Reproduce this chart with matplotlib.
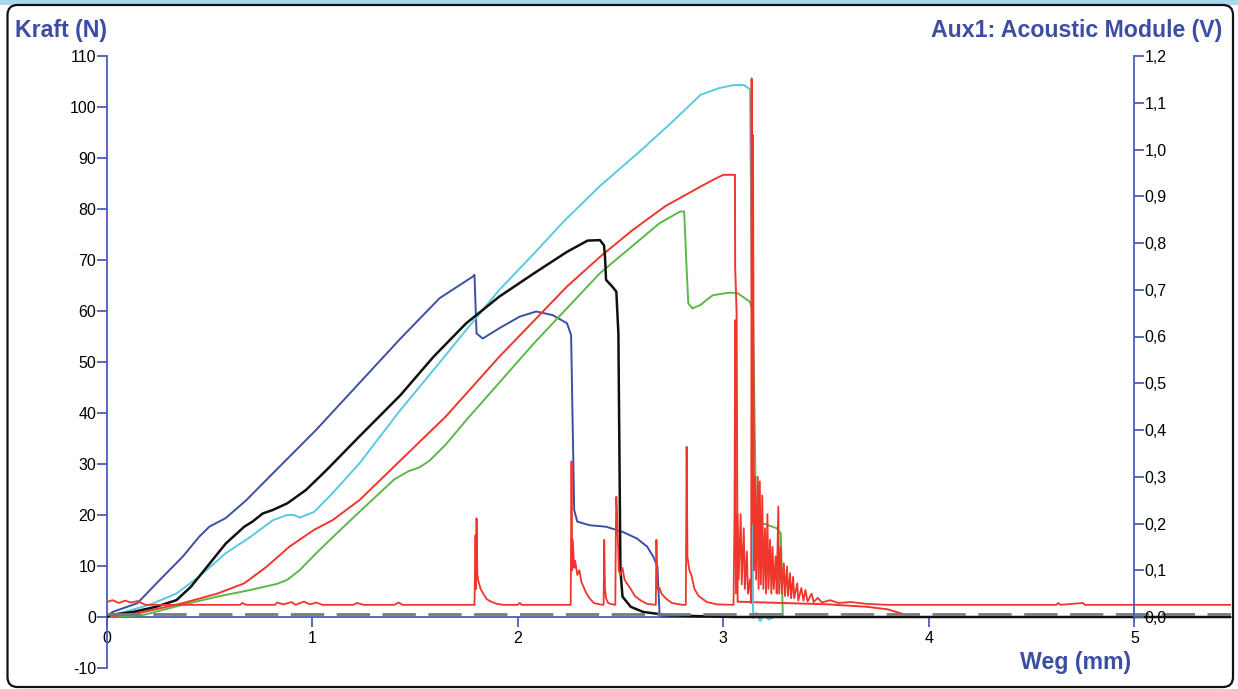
import matplotlib
matplotlib.use('Agg')
import matplotlib.pyplot as plt
from matplotlib.patches import FancyBboxPatch, Rectangle
from matplotlib.transforms import IdentityTransform
from matplotlib.ticker import FuncFormatter

# force curves, Weg (mm) -> Kraft (N)
blue_x = [0.0, 0.03, 0.15, 0.26, 0.37, 0.45, 0.50, 0.58, 0.68, 0.81, 1.02, 1.43, 1.62, 1.78, 1.79,
          1.80, 1.83, 1.91, 2.01, 2.09, 2.17, 2.24, 2.26, 2.27, 2.275, 2.29, 2.35, 2.43, 2.51, 2.58,
          2.63, 2.66, 2.68, 2.69, 2.70, 5.47]
blue_y = [0.0, 1.0, 2.7, 7.3, 11.8, 15.7, 17.7, 19.4, 22.9, 28.2, 36.7, 54.6, 62.5, 66.7, 67.1,
          55.6, 54.6, 56.6, 58.9, 59.9, 59.2, 57.6, 55.3, 32.4, 21.0, 18.7, 18.0, 17.7, 16.7, 15.4,
          13.8, 11.8, 9.9, 0.8, 0.0, 0.0]

black_x = [0.0, 0.02, 0.13, 0.24, 0.34, 0.41, 0.49, 0.58, 0.67, 0.71, 0.76, 0.81, 0.88, 0.97, 1.07,
           1.23, 1.43, 1.59, 1.75, 1.91, 2.08, 2.24, 2.34, 2.40, 2.42, 2.425, 2.43, 2.46, 2.48, 2.49,
           2.50, 2.51, 2.55, 2.61, 2.72, 2.85, 2.95, 3.05, 5.47]
black_y = [0.0, 0.4, 1.0, 2.0, 3.3, 5.9, 9.9, 14.4, 17.7, 18.7, 20.3, 21.0, 22.3, 24.9, 28.8,
           35.4, 43.5, 51.0, 57.6, 62.8, 67.4, 71.6, 73.8, 73.9, 72.9, 70.6, 66.1, 64.8, 63.8, 55.6,
           9.2, 4.0, 2.0, 1.0, 0.4, 0.2, 0.1, 0.0, 0.0]

cyan_x = [0.0, 0.07, 0.21, 0.34, 0.45, 0.58, 0.70, 0.81, 0.88, 0.91, 0.94, 1.01, 1.10, 1.23, 1.43,
          1.59, 1.75, 1.91, 2.08, 2.23, 2.40, 2.60, 2.75, 2.89, 2.98, 3.05, 3.10, 3.13, 3.14, 3.145,
          3.16, 3.18, 3.20, 3.22, 3.25]
cyan_y = [0.0, 0.8, 2.4, 4.6, 7.9, 12.5, 15.7, 19.0, 20.0, 20.0, 19.5, 20.6, 24.3, 30.1, 40.6,
          48.4, 56.3, 64.1, 71.3, 77.8, 84.5, 91.5, 97.0, 102.4, 103.7, 104.3, 104.3, 103.5, 60.0, -0.2,
          0.8, -0.8, 0.6, -0.5, 0.0]

red_x = [0.0, 0.16, 0.37, 0.54, 0.67, 0.78, 0.89, 1.01, 1.10, 1.23, 1.65, 1.91, 2.24, 2.40, 2.56,
         2.72, 2.89, 2.95, 3.00, 3.057, 3.058, 3.065, 3.07, 3.50, 3.70, 3.80, 3.92]
red_y = [0.0, 0.8, 2.7, 4.6, 6.6, 9.9, 13.8, 17.1, 19.0, 22.9, 39.3, 51.0, 64.8, 70.6, 75.9,
         80.6, 84.4, 85.7, 86.7, 86.7, 68.7, 60.0, 3.0, 2.5, 2.0, 1.5, 0.0]

green_x = [0.0, 0.18, 0.37, 0.54, 0.70, 0.83, 0.88, 0.94, 1.02, 1.12, 1.23, 1.40, 1.47, 1.52, 1.57,
           1.65, 1.75, 2.08, 2.40, 2.69, 2.79, 2.81, 2.82, 2.83, 2.85, 2.89, 2.92, 2.95, 3.03, 3.07,
           3.13, 3.145, 3.16, 3.19, 3.26, 3.28, 3.29, 3.30]
green_y = [0.0, 0.4, 2.4, 4.0, 5.3, 6.5, 7.3, 9.2, 12.5, 16.4, 20.6, 27.0, 28.6, 29.3, 30.6,
           33.8, 38.6, 53.7, 67.4, 77.2, 79.5, 79.5, 70.0, 61.5, 60.5, 61.2, 62.2, 63.1, 63.6, 63.5,
           61.8, 59.6, 18.4, 18.4, 17.4, 16.4, 0.0, 0.0]

# Aux1 acoustic signal, Weg (mm) -> V
ac_x = [0.00, 0.03, 0.06, 0.09, 0.12, 0.15, 0.19, 0.65, 0.66, 0.68, 0.82, 0.83, 0.86, 0.90, 0.92,
        0.96, 0.99, 1.02, 1.05, 1.20, 1.22, 1.25, 1.40, 1.42, 1.44, 1.79, 1.795, 1.798, 1.800, 1.804,
        1.81, 1.82, 1.835, 1.85, 1.87, 1.90, 1.93, 2.00, 2.01, 2.02, 2.258, 2.262, 2.265, 2.268, 2.275,
        2.28, 2.29, 2.30, 2.31, 2.32, 2.335, 2.35, 2.37, 2.40, 2.418, 2.420, 2.421, 2.425, 2.43,
        2.44, 2.46, 2.475, 2.478, 2.480, 2.484, 2.488, 2.492, 2.50, 2.51, 2.52, 2.53, 2.55, 2.57,
        2.60, 2.63, 2.672, 2.675, 2.680, 2.69, 2.70, 2.72, 2.75, 2.80, 2.818, 2.820, 2.822, 2.826,
        2.835, 2.845, 2.86, 2.88, 2.92, 2.97, 3.05, 3.055, 3.058, 3.062, 3.07, 3.075, 3.085, 3.09,
        3.10, 3.105, 3.115, 3.12, 3.13, 3.136, 3.138, 3.141, 3.145, 3.15, 3.155, 3.16, 3.168, 3.172,
        3.178, 3.183, 3.19, 3.195, 3.203, 3.208, 3.215, 3.22, 3.228, 3.234, 3.24, 3.246, 3.255, 3.26,
        3.268, 3.272, 3.28, 3.285, 3.295, 3.30, 3.31, 3.315, 3.325, 3.33, 3.34, 3.345, 3.36, 3.365,
        3.38, 3.39, 3.40, 3.41, 3.43, 3.44, 3.46, 3.48, 3.52, 3.56, 3.62, 3.70, 3.80, 4.62, 4.63,
        4.64, 4.75, 4.76, 5.47]
ac_v = [0.032, 0.036, 0.030, 0.035, 0.031, 0.034, 0.026, 0.026, 0.030, 0.026, 0.026, 0.031, 0.027, 0.032, 0.026,
        0.033, 0.027, 0.031, 0.026, 0.026, 0.030, 0.026, 0.026, 0.031, 0.026, 0.026, 0.175, 0.060, 0.211, 0.090,
        0.075, 0.060, 0.048, 0.038, 0.033, 0.028, 0.026, 0.026, 0.030, 0.026, 0.026, 0.333, 0.100, 0.165, 0.105,
        0.120, 0.090, 0.100, 0.075, 0.065, 0.050, 0.040, 0.030, 0.027, 0.026, 0.100, 0.165, 0.060, 0.040,
        0.030, 0.027, 0.026, 0.200, 0.257, 0.218, 0.160, 0.100, 0.090, 0.105, 0.080, 0.073, 0.060, 0.045,
        0.035, 0.028, 0.026, 0.165, 0.060, 0.062, 0.050, 0.040, 0.030, 0.026, 0.026, 0.197, 0.364, 0.129,
        0.100, 0.090, 0.060, 0.045, 0.032, 0.027, 0.026, 0.220, 0.635, 0.050, 0.220, 0.080, 0.220, 0.070,
        0.190, 0.060, 0.140, 0.050, 0.080, 0.030, 1.152, 0.200, 1.031, 0.100, 0.300, 0.080, 0.300, 0.060,
        0.290, 0.070, 0.260, 0.060, 0.190, 0.050, 0.220, 0.060, 0.165, 0.050, 0.150, 0.060, 0.130, 0.050,
        0.236, 0.050, 0.150, 0.050, 0.115, 0.045, 0.108, 0.045, 0.094, 0.040, 0.086, 0.040, 0.072, 0.035,
        0.062, 0.035, 0.058, 0.033, 0.050, 0.032, 0.041, 0.031, 0.036, 0.030, 0.032, 0.028, 0.026, 0.026, 0.030,
        0.026, 0.030, 0.026, 0.026]

x_ticks = [0, 1, 2, 3, 4, 5]
kraft_ticks = [-10, 0, 10, 20, 30, 40, 50, 60, 70, 80, 90, 100, 110]
aux_ticks = [0.0, 0.1, 0.2, 0.3, 0.4, 0.5, 0.6, 0.7, 0.8, 0.9, 1.0, 1.1, 1.2]

axis_blue = '#4a5fb5'
label_blue = '#3b4ea3'
tick_font = ['Liberation Sans Narrow', 'Liberation Sans', 'DejaVu Sans']
plt.rcParams['font.family'] = ['Liberation Sans', 'DejaVu Sans']
plt.rcParams['axes.unicode_minus'] = False

W, H = 1238, 689
fig = plt.figure(figsize=(W / 100, H / 100), dpi=100)
fig.patch.set_facecolor('white')

# light blue strip and rounded frame
fig.patches.append(Rectangle((0, 1 - 5 / H), 1, 5 / H, transform=fig.transFigure,
                             facecolor='#a9d6f0', edgecolor='none', zorder=-2))
fig.patches.append(FancyBboxPatch((7.5, 2), 1225.5, 682,
                                  boxstyle='round,pad=0,rounding_size=10',
                                  transform=IdentityTransform(), facecolor='none',
                                  edgecolor='#111111', linewidth=1.6, zorder=-1))

ax = fig.add_axes([106.5 / W, 1 - 668 / H, (1231 - 106.5) / W, (668 - 56) / H])
ax.set_facecolor('none')
ax.set_xlim(0, 5.47)
ax.set_ylim(-10, 110)

ax.plot(blue_x, blue_y, color='#3c4fa5', lw=1.4, zorder=3)
ax.plot(green_x, green_y, color='#5cb848', lw=1.4, zorder=3)
ax.plot(red_x, red_y, color='#f0362c', lw=1.4, zorder=3)
ax.plot(cyan_x, cyan_y, color='#5bc8e3', lw=1.4, zorder=3)
ax.plot(black_x, black_y, color='#111111', lw=1.8, zorder=4)
ax.plot([0, 5.47], [0.5, 0.5], color='#7a7a7a', lw=2.0, dashes=(12, 4.5), zorder=5)

for s in ['top', 'right']:
    ax.spines[s].set_visible(False)
ax.spines['left'].set_color(axis_blue)
ax.spines['left'].set_linewidth(1.3)
ax.spines['bottom'].set_position(('data', 0))
ax.spines['bottom'].set_color(axis_blue)
ax.spines['bottom'].set_linewidth(1.3)

ax.set_xticks(x_ticks)
ax.set_yticks(kraft_ticks)
ax.tick_params(axis='y', direction='out', length=7, width=1.3, color=axis_blue,
               labelsize=11.5, pad=0.5)
ax.tick_params(axis='x', direction='out', length=7, width=1.3, color=axis_blue,
               labelsize=11.5, pad=3)
for lab in ax.get_xticklabels() + ax.get_yticklabels():
    lab.set_family(tick_font)

ax2 = ax.twinx()
ax2.set_ylim(-10 * 1.2 / 110, 1.2)
ax2.plot(ac_x, ac_v, color='#f0362c', lw=1.3, zorder=2)
for s in ['top', 'left', 'bottom']:
    ax2.spines[s].set_visible(False)
ax2.spines['right'].set_position(('data', 5))
ax2.spines['right'].set_bounds(0, 1.2)
ax2.spines['right'].set_color(axis_blue)
ax2.spines['right'].set_linewidth(1.3)
ax2.set_yticks(aux_ticks)
ax2.yaxis.set_major_formatter(FuncFormatter(lambda v, p: f'{v:.1f}'.replace('.', ',')))
ax2.tick_params(axis='y', direction='out', length=7, width=1.3, color=axis_blue,
                labelsize=11.5, pad=0.5)
for lab in ax2.get_yticklabels():
    lab.set_family(tick_font)

title_kw = dict(fontsize=16.7, fontweight='bold', color=label_blue, va='center')
fig.text(15 / W, 1 - 30 / H, 'Kraft (N)', ha='left', **title_kw)
fig.text(1222 / W, 1 - 30 / H, 'Aux1: Acoustic Module (V)', ha='right', **title_kw)
fig.text(1131 / W, 1 - 663 / H, 'Weg (mm)', ha='right', **title_kw)

fig.savefig('out.png', dpi=100)
